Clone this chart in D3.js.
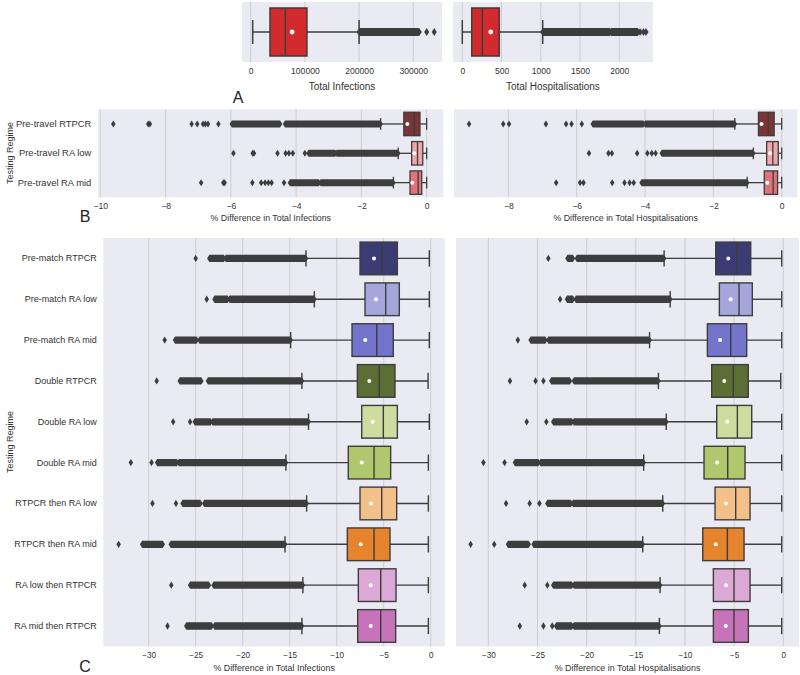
<!DOCTYPE html>
<html><head><meta charset="utf-8">
<script src="https://cdn.jsdelivr.net/npm/d3@7"></script>
<style>
body{margin:0;background:#fff}
svg{display:block}
text{font-family:"Liberation Sans",Arial,sans-serif}
</style>
</head><body>
<svg id="chart" width="800" height="675"></svg>
<script>
// ---------------- DATA ----------------
// Panel A: totals (single box each)
const totalCats = ["All"];
const infTotalLo = [3700], infTotalQ1 = [35600], infTotalMed = [64000], infTotalQ3 = [103800], infTotalHi = [200000], infTotalMean = [76500];
const infTotalFliers = [[324700, 338700]];
const infTotalBands = [[[200000, 294000], [294500, 311000]]];
const infTotalTicks = [0, 100000, 200000, 300000];

const hospTotalLo = [0], hospTotalQ1 = [120], hospTotalMed = [255], hospTotalQ3 = [471], hospTotalHi = [1024], hospTotalMean = [362];
const hospTotalFliers = [[2264, 2306, 2340]];
const hospTotalBands = [[[1024, 1880], [1895, 2235]]];
const hospTotalTicks = [0, 500, 1000, 1500, 2000];

// Panel B: pre-travel regimes
const travelCats = ["Pre-travel RTPCR", "Pre-travel RA low", "Pre-travel RA mid"];
const travelColors = ["#7a3435", "#f0a6ab", "#e07279"];
const travelTicks = [-10, -8, -6, -4, -2, 0];
const travelTicksH = [-8, -6, -4, -2, 0];

const travelInfLo = [-1.41, -0.87, -1.02];
const travelInfQ1 = [-0.70, -0.46, -0.51];
const travelInfMed = [-0.38, -0.28, -0.26];
const travelInfQ3 = [-0.205, -0.12, -0.15];
const travelInfHi = [0, 0, 0];
const travelInfMean = [-0.59, -0.38, -0.44];
const travelInfFliers = [
  [-9.6, -8.53, -8.48, -7.2, -7.03, -6.85, -6.78, -6.7, -6.38],
  [-5.92, -5.33, -5.29, -4.57, -4.32, -4.22, -4.1, -3.73],
  [-6.91, -6.23, -6.19, -5.34, -5.07, -4.95, -4.85, -4.75, -4.37]
];
const travelInfBands = [
  [[-5.97, -4.49], [-4.34, -1.41]],
  [[-3.62, -2.8], [-2.76, -0.87]],
  [[-4.19, -3.3], [-3.25, -1.02]]
];

const travelHospLo = [-1.37, -0.83, -1.01];
const travelHospQ1 = [-0.68, -0.44, -0.51];
const travelHospMed = [-0.39, -0.26, -0.25];
const travelHospQ3 = [-0.22, -0.10, -0.12];
const travelHospHi = [0, 0, 0];
const travelHospMean = [-0.59, -0.34, -0.42];
const travelHospFliers = [
  [-9.15, -8.15, -7.98, -6.9, -6.31, -6.15, -5.85],
  [-5.64, -5.07, -4.97, -4.23, -3.93, -3.8, -3.69],
  [-6.6, -5.9, -5.8, -4.96, -4.6, -4.45, -4.33]
];
const travelHospBands = [
  [[-5.53, -4.05], [-4.0, -1.37]],
  [[-3.51, -0.83]],
  [[-4.1, -1.01]]
];

// Panel C: match regimes
const matchCats = ["Pre-match RTPCR", "Pre-match RA low", "Pre-match RA mid", "Double RTPCR", "Double RA low",
  "Double RA mid", "RTPCR then RA low", "RTPCR then RA mid", "RA low then RTPCR", "RA mid then RTPCR"];
const matchColors = ["#3b3c73", "#a5a6db", "#7475ca", "#5c6e34", "#cfdb9f", "#afc76d", "#f4c08a", "#e6832d", "#dca8d6", "#c773ba"];
const matchTicks = [-30, -25, -20, -15, -10, -5, 0];

const matchInfLo = [-13.27, -12.38, -14.9, -13.7, -13.0, -15.4, -13.2, -15.5, -13.6, -13.7];
const matchInfQ1 = [-7.52, -6.99, -8.37, -7.8, -7.34, -8.77, -7.52, -8.87, -7.7, -7.77];
const matchInfMed = [-5.15, -4.79, -5.74, -5.47, -5.04, -6.03, -5.21, -6.03, -5.32, -5.32];
const matchInfQ3 = [-3.55, -3.34, -3.98, -3.8, -3.55, -4.26, -3.62, -4.33, -3.69, -3.73];
const matchInfHi = [-0.15, -0.15, -0.15, -0.28, -0.15, -0.25, -0.25, -0.25, -0.25, -0.25];
const matchInfMean = [-6.03, -5.82, -6.96, -6.53, -6.17, -7.34, -6.35, -7.45, -6.38, -6.38];
const matchInfFliers = [
  [-25.0], [-23.83], [-28.3], [-29.15], [-27.4, -25.6],
  [-31.9, -29.7], [-29.6, -27.1], [-33.2], [-27.6], [-28.0]
];
const matchInfBands = [
  [[-23.55, -22.0], [-21.8, -13.27]],
  [[-23.0, -21.6], [-21.4, -12.38]],
  [[-27.2, -24.9], [-24.6, -14.9]],
  [[-26.7, -24.4], [-23.7, -13.7]],
  [[-25.1, -23.4], [-23.2, -13.0]],
  [[-29.1, -27.0], [-26.8, -15.4]],
  [[-26.4, -24.5], [-24.1, -13.2]],
  [[-30.7, -28.5], [-27.66, -15.5]],
  [[-25.6, -23.6], [-23.1, -13.6]],
  [[-26.0, -23.3], [-23.0, -13.7]]
];

const matchHospLo = [-12.12, -11.5, -13.6, -12.7, -11.9, -14.2, -12.26, -14.3, -12.53, -12.6];
const matchHospQ1 = [-6.87, -6.5, -7.72, -7.28, -6.77, -8.06, -6.94, -8.19, -7.11, -7.11];
const matchHospMed = [-4.74, -4.5, -5.35, -5.08, -4.67, -5.65, -4.84, -5.69, -5.01, -5.01];
const matchHospQ3 = [-3.31, -3.15, -3.72, -3.56, -3.21, -3.89, -3.38, -3.99, -3.38, -3.55];
const matchHospHi = [-0.16, -0.16, -0.16, -0.26, -0.16, -0.16, -0.16, -0.16, -0.16, -0.16];
const matchHospMean = [-5.59, -5.35, -6.43, -6.0, -5.69, -6.74, -5.82, -6.87, -5.82, -5.85];
const matchHospFliers = [
  [-23.9], [-22.7], [-27.0], [-27.8, -25.2, -24.4], [-26.1, -24.1],
  [-30.5, -28.35], [-28.2, -25.8, -24.8], [-31.8, -29.4], [-26.3, -24.0], [-26.8, -24.4, -23.5]
];
const matchHospBands = [
  [[-21.95, -21.4], [-21.0, -12.12]],
  [[-22.0, -21.4], [-21.1, -11.5]],
  [[-25.7, -24.2], [-23.9, -13.6]],
  [[-23.6, -21.7], [-21.3, -12.7]],
  [[-23.4, -21.5], [-21.3, -11.9]],
  [[-27.3, -24.9], [-24.7, -14.2]],
  [[-24.0, -21.6], [-21.4, -12.26]],
  [[-28.0, -25.9], [-25.4, -14.3]],
  [[-23.4, -21.5], [-21.3, -12.53]],
  [[-23.1, -21.5], [-21.3, -12.6]]
];

// ---------------- DRAWING ----------------
const svg = d3.select("#chart");
const INK = "#3d3d3d";
const FONT = '"Liberation Sans", Arial, sans-serif';

function drawPanel(c) {
  const g = svg.append("g");
  const x = d3.scaleLinear().domain(c.domain).range([c.x0, c.x1]);
  const y = d3.scaleBand().domain(c.cats).range([c.y0, c.y1]);
  g.append("rect").attr("x", c.x0).attr("y", c.y0)
    .attr("width", c.x1 - c.x0).attr("height", c.y1 - c.y0).attr("fill", "#eaeaf2");
  g.append("g").selectAll("line").data(c.ticks).join("line")
    .attr("x1", d => x(d)).attr("x2", d => x(d)).attr("y1", c.y0).attr("y2", c.y1)
    .attr("stroke", "#cdcdd4").attr("stroke-width", 1);

  const ax = g.append("g").attr("transform", `translate(0,${c.y1})`)
    .call(d3.axisBottom(x).tickValues(c.ticks).tickFormat(c.fmt).tickSize(0).tickPadding(c.tickPad));
  ax.select(".domain").remove();
  ax.attr("font-family", FONT).attr("font-size", c.tickFs);
  ax.selectAll("text").attr("fill", "#333");

  if (c.showCats) {
    const ay = g.append("g").attr("transform", `translate(${c.x0},0)`)
      .call(d3.axisLeft(y).tickSize(0).tickPadding(c.catPad));
    ay.select(".domain").remove();
    ay.attr("font-family", FONT).attr("font-size", c.catFs);
    ay.selectAll("text").attr("fill", "#333");
  }
  g.append("text").attr("x", (c.x0 + c.x1) / 2).attr("y", c.titleY)
    .attr("text-anchor", "middle").attr("font-size", c.titleFs).attr("fill", "#333").text(c.title);

  const fw = c.fw, fh = c.fh;
  c.cats.forEach((cat, i) => {
    const cy = y(cat) + y.bandwidth() / 2;
    const bh = y.bandwidth() * 0.8;
    // dense flier bands
    c.bands[i].forEach(([a, b]) => {
      const xa = x(a), xb = x(b);
      g.append("path").attr("fill", INK)
        .attr("d", `M${xa - fw / 2},${cy} L${xa},${cy - fh / 2} L${xb},${cy - fh / 2} L${xb + fw / 2},${cy} L${xb},${cy + fh / 2} L${xa},${cy + fh / 2} Z`);
    });
    // individual fliers
    c.fliers[i].forEach(v => {
      const xv = x(v);
      g.append("path").attr("fill", INK)
        .attr("d", `M${xv},${cy - fh / 2} L${xv + fw / 2},${cy} L${xv},${cy + fh / 2} L${xv - fw / 2},${cy} Z`);
    });
    // whiskers
    const lw = c.lw;
    g.append("line").attr("x1", x(c.lo[i])).attr("x2", x(c.q1[i])).attr("y1", cy).attr("y2", cy)
      .attr("stroke", INK).attr("stroke-width", lw);
    g.append("line").attr("x1", x(c.q3[i])).attr("x2", x(c.hi[i])).attr("y1", cy).attr("y2", cy)
      .attr("stroke", INK).attr("stroke-width", lw);
    [c.lo[i], c.hi[i]].forEach(v => {
      g.append("line").attr("x1", x(v)).attr("x2", x(v)).attr("y1", cy - bh / 4).attr("y2", cy + bh / 4)
        .attr("stroke", INK).attr("stroke-width", lw);
    });
    // box
    g.append("rect").attr("x", x(c.q1[i])).attr("y", cy - bh / 2)
      .attr("width", x(c.q3[i]) - x(c.q1[i])).attr("height", bh)
      .attr("fill", c.colors[i]).attr("stroke", INK).attr("stroke-width", lw);
    g.append("line").attr("x1", x(c.med[i])).attr("x2", x(c.med[i])).attr("y1", cy - bh / 2).attr("y2", cy + bh / 2)
      .attr("stroke", INK).attr("stroke-width", lw);
    g.append("circle").attr("cx", x(c.mean[i])).attr("cy", cy).attr("r", c.meanR).attr("fill", "#fff");
  });
}

const intFmt = d3.format("d");
const numFmt = d3.format("");

// Panel A
drawPanel({x0: 242, x1: 442, y0: 2, y1: 62, domain: [-16050, 352950], ticks: infTotalTicks, fmt: intFmt,
  cats: totalCats, showCats: false, lo: infTotalLo, q1: infTotalQ1, med: infTotalMed, q3: infTotalQ3, hi: infTotalHi,
  mean: infTotalMean, fliers: infTotalFliers, bands: infTotalBands, colors: ["#d32a2e"],
  title: "Total Infections", titleY: 89.5, titleFs: 10, tickFs: 8.6, tickPad: 6, fw: 5, fh: 8, lw: 1.5, meanR: 2.4});
drawPanel({x0: 453, x1: 652.7, y0: 2, y1: 62, domain: [-118.5, 2425], ticks: hospTotalTicks, fmt: intFmt,
  cats: totalCats, showCats: false, lo: hospTotalLo, q1: hospTotalQ1, med: hospTotalMed, q3: hospTotalQ3, hi: hospTotalHi,
  mean: hospTotalMean, fliers: hospTotalFliers, bands: hospTotalBands, colors: ["#d32a2e"],
  title: "Total Hospitalisations", titleY: 89.5, titleFs: 10, tickFs: 8.6, tickPad: 6, fw: 5, fh: 8, lw: 1.5, meanR: 2.4});

// Panel B
drawPanel({x0: 98.3, x1: 443.3, y0: 109.3, y1: 197.3, domain: [-10.06, 0.51], ticks: travelTicks, fmt: numFmt,
  cats: travelCats, showCats: true, catPad: 7, catFs: 9.4, lo: travelInfLo, q1: travelInfQ1, med: travelInfMed,
  q3: travelInfQ3, hi: travelInfHi, mean: travelInfMean, fliers: travelInfFliers, bands: travelInfBands, colors: travelColors,
  title: "% Difference in Total Infections", titleY: 220.5, titleFs: 8.8, tickFs: 8.6, tickPad: 6, fw: 4.5, fh: 7, lw: 1.3, meanR: 2});
drawPanel({x0: 454, x1: 797.4, y0: 109.3, y1: 197.3, domain: [-9.59, 0.46], ticks: travelTicksH, fmt: numFmt,
  cats: travelCats, showCats: false, lo: travelHospLo, q1: travelHospQ1, med: travelHospMed,
  q3: travelHospQ3, hi: travelHospHi, mean: travelHospMean, fliers: travelHospFliers, bands: travelHospBands, colors: travelColors,
  title: "% Difference in Total Hospitalisations", titleY: 220.5, titleFs: 8.8, tickFs: 8.6, tickPad: 6, fw: 4.5, fh: 7, lw: 1.3, meanR: 2});

// Panel C
drawPanel({x0: 103.3, x1: 445, y0: 238, y1: 646.4, domain: [-34.83, 1.52], ticks: matchTicks, fmt: numFmt,
  cats: matchCats, showCats: true, catPad: 6.6, catFs: 9, lo: matchInfLo, q1: matchInfQ1, med: matchInfMed,
  q3: matchInfQ3, hi: matchInfHi, mean: matchInfMean, fliers: matchInfFliers, bands: matchInfBands, colors: matchColors,
  title: "% Difference in Total Infections", titleY: 671, titleFs: 8.9, tickFs: 8.2, tickPad: 6, fw: 4.5, fh: 7.3, lw: 1.4, meanR: 2});
drawPanel({x0: 456, x1: 799, y0: 238, y1: 646.4, domain: [-33.29, 1.6], ticks: matchTicks, fmt: numFmt,
  cats: matchCats, showCats: false, lo: matchHospLo, q1: matchHospQ1, med: matchHospMed,
  q3: matchHospQ3, hi: matchHospHi, mean: matchHospMean, fliers: matchHospFliers, bands: matchHospBands, colors: matchColors,
  title: "% Difference in Total Hospitalisations", titleY: 671, titleFs: 8.9, tickFs: 8.2, tickPad: 6, fw: 4.5, fh: 7.3, lw: 1.4, meanR: 2});

// Y-axis titles
[[153, "Testing Regime"], [442, "Testing Regime"]].forEach(([cy, t]) => {
  svg.append("text").attr("transform", `translate(10,${cy}) rotate(-90)`)
    .attr("text-anchor", "middle").attr("dominant-baseline", "central")
    .attr("font-size", 9).attr("fill", "#333").text(t);
});

// Panel letters
[["A", 238, 103], ["B", 85, 222], ["C", 85, 672]].forEach(([t, px, py]) => {
  svg.append("text").attr("x", px).attr("y", py).attr("text-anchor", "middle")
    .attr("font-size", 16).attr("fill", "#222").text(t);
});
</script>
</body></html>
